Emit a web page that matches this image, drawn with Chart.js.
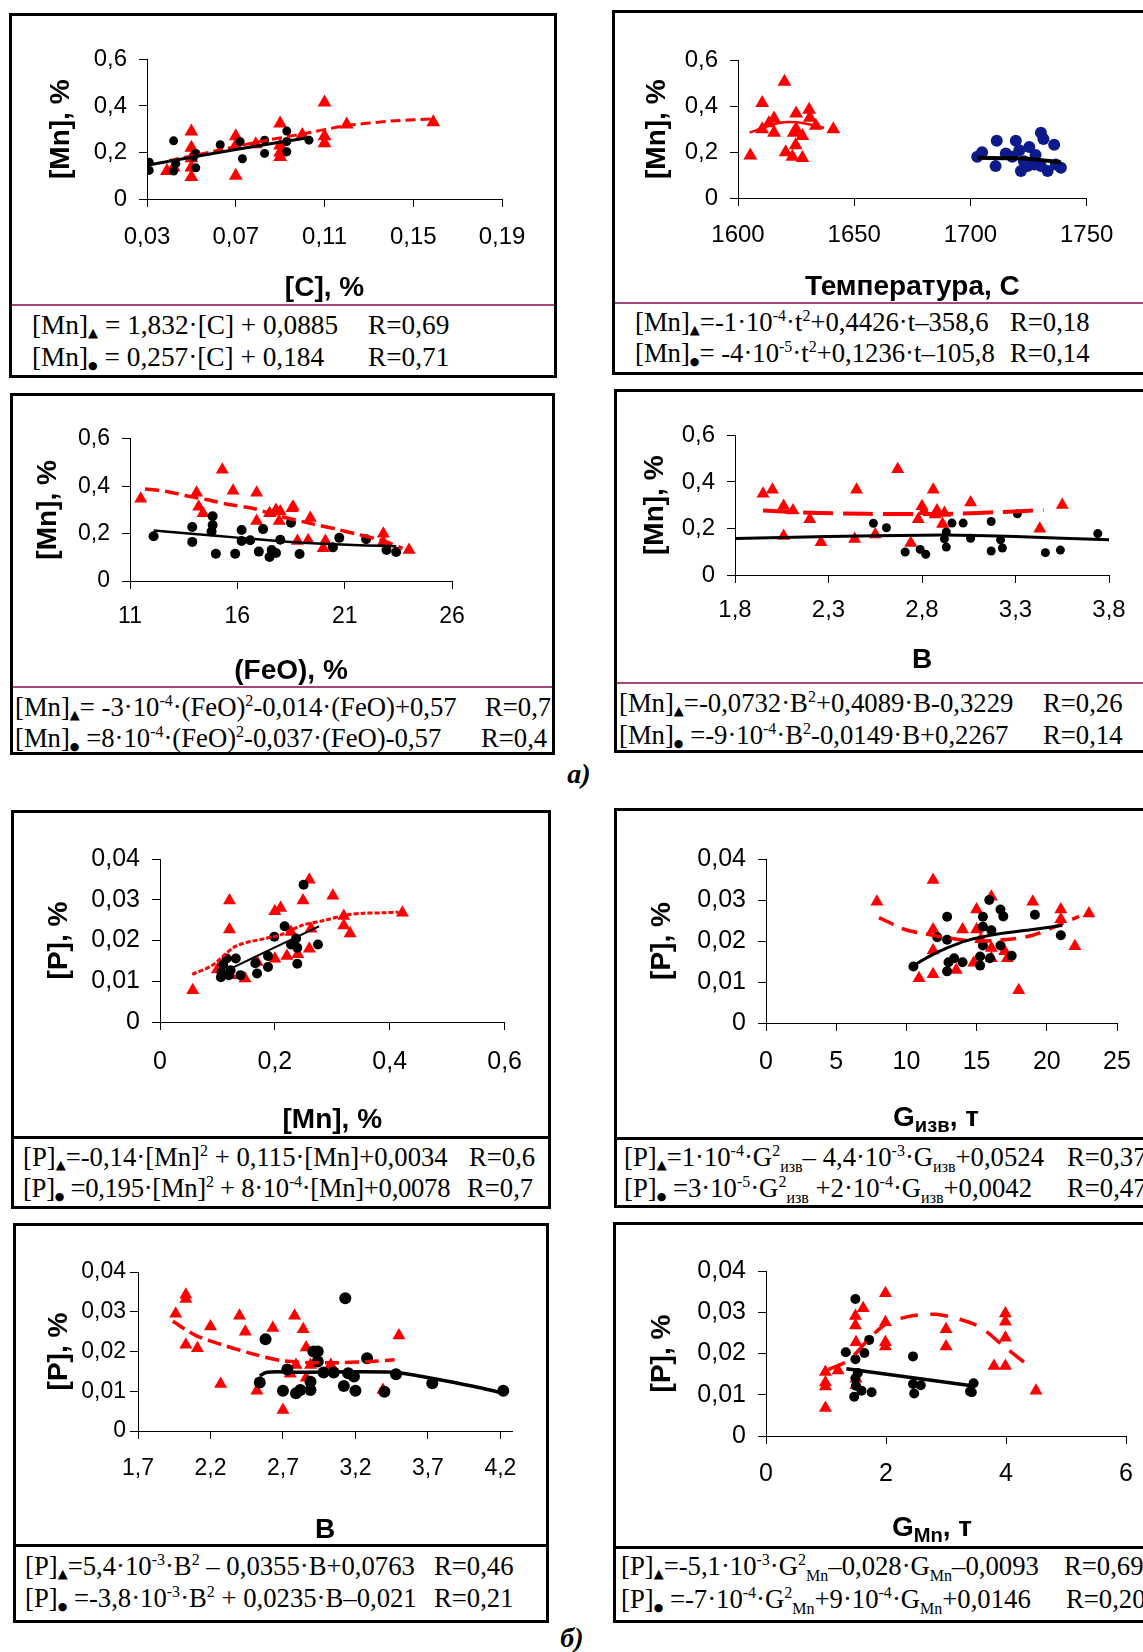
<!DOCTYPE html>
<html>
<head>
<meta charset="utf-8">
<script src="https://cdn.jsdelivr.net/npm/chart.js@4.4.1/dist/chart.umd.min.js"></script>
<style>
  html, body { margin: 0; padding: 0; background: #fff; overflow: hidden; }
  body { width: 1143px; height: 1652px; position: relative; }
  .box { position: absolute; border: 3px solid #000; box-sizing: border-box; background: #fff; }
  .sep { position: absolute; }
  .eq { position: absolute; font-family: 'Liberation Serif', 'Times New Roman', serif; font-size: 26.7px;
        white-space: nowrap; color: #000; height: 30px; line-height: 30px; }
  .eq sup { font-size: 0.6em; vertical-align: 0.6em; line-height: 0; }
  .eq sub { font-size: 0.6em; vertical-align: -0.35em; line-height: 0; }
  .eq sub.tri { font-family: 'DejaVu Sans', sans-serif; font-size: 13px; vertical-align: -0.2em; }
  .eq sub.dot { font-family: 'DejaVu Sans', sans-serif; font-size: 11px; vertical-align: -0.3em; }
  canvas { position: absolute; }
  .ttl { position: absolute; font: bold 28px 'Liberation Sans', Arial, sans-serif; white-space: nowrap;
         transform: translate(-50%, -50%); }
  .ttl sub { font-size: 0.72em; vertical-align: -0.3em; line-height: 0; }
  .lbl { position: absolute; font: bold italic 28px 'Liberation Serif', serif; transform: translate(-50%, -50%); }
</style>
</head>
<body>
<script>
// ---- tick values ----
const ticksMnY = [0, 0.2, 0.4, 0.6];
const ticksPY = [0, 0.01, 0.02, 0.03, 0.04];
const ticksC = [0.03, 0.07, 0.11, 0.15, 0.19];
const ticksT = [1600, 1650, 1700, 1750];
const ticksFeO = [11, 16, 21, 26];
const ticksB1 = [1.8, 2.3, 2.8, 3.3, 3.8];
const ticksMnX = [0, 0.2, 0.4, 0.6];
const ticksG = [0, 5, 10, 15, 20, 25];
const ticksB2 = [1.7, 2.2, 2.7, 3.2, 3.7, 4.2];
const ticksGmn = [0, 2, 4, 6];

// ---- [Mn] vs [C] ----
const mnC_tri = [[0.05,0.29],[0.05,0.22],[0.05,0.175],[0.05,0.135],[0.05,0.095],[0.039,0.12],[0.042,0.135],
  [0.07,0.10],[0.07,0.27],[0.07,0.23],[0.079,0.235],[0.09,0.325],[0.09,0.20],[0.09,0.18],[0.09,0.23],
  [0.11,0.415],[0.11,0.27],[0.11,0.24],[0.12,0.32],[0.159,0.33],[0.10,0.275]];
const mnC_dot = [[0.031,0.158],[0.031,0.123],[0.042,0.25],[0.042,0.12],[0.043,0.152],[0.052,0.196],[0.052,0.134],
  [0.051,0.18],[0.063,0.233],[0.072,0.246],[0.073,0.173],[0.083,0.253],[0.083,0.196],[0.093,0.292],
  [0.093,0.247],[0.093,0.203],[0.103,0.253]];
const mnC_triFit = [[0.04,0.165],[0.06,0.205],[0.08,0.245],[0.10,0.28],[0.12,0.315],[0.14,0.335],[0.16,0.345]];
const mnC_dotFit = [[0.03,0.145],[0.07,0.213],[0.104,0.265]];

// ---- [Mn] vs temperature ----
const mnT_tri = [[1605.3,0.185],[1610.4,0.414],[1610.4,0.30],[1613.3,0.326],[1615.5,0.347],[1615.5,0.285],
  [1620,0.507],[1620.5,0.199],[1623.4,0.18],[1625,0.368],[1625,0.30],[1624.8,0.23],[1627.7,0.27],
  [1627.7,0.174],[1630.6,0.385],[1630.9,0.35],[1633.5,0.315],[1641,0.30],[1624,0.285]];
const mnT_dot = [[1702.9,0.18],[1705,0.2],[1710.8,0.139],[1711.3,0.25],[1715.2,0.194],[1718,0.18],
  [1719.5,0.25],[1721,0.208],[1721.7,0.118],[1724.5,0.139],[1725.3,0.222],[1728,0.187],[1727.5,0.146],
  [1730.3,0.285],[1731.4,0.257],[1730.3,0.139],[1733.2,0.118],[1736,0.232],[1736.7,0.146],[1738.9,0.132],
  [1723,0.16]];
const mnT_triFit = [[1605,0.285],[1612,0.31],[1618,0.328],[1625,0.33],[1632,0.318],[1637,0.305]];
const mnT_dotFit = [[1703,0.175],[1720,0.173],[1730,0.166],[1739,0.155]];

// ---- [Mn] vs (FeO) ----
const mnFeO_tri = [[11.5,0.347],[14.1,0.372],[14.2,0.313],[14.4,0.286],[15.3,0.469],[15.8,0.381],[16.9,0.372],
  [16.9,0.253],[17.5,0.286],[17.8,0.30],[17.95,0.253],[18.0,0.293],[18.55,0.307],[18.6,0.313],[18.8,0.169],
  [19.4,0.266],[19.3,0.172],[20.0,0.138],[20.1,0.169],[22.8,0.199],[22.8,0.165],[24.0,0.131]];
const mnFeO_dot = [[12.1,0.189],[13.9,0.228],[13.9,0.165],[14.85,0.273],[14.85,0.236],[14.8,0.209],[15.0,0.115],
  [15.9,0.115],[16.2,0.215],[16.2,0.169],[16.6,0.172],[17.0,0.124],[17.2,0.219],[17.5,0.101],[17.6,0.131],
  [17.8,0.118],[18.0,0.174],[18.5,0.246],[18.9,0.114],[20.45,0.142],[20.75,0.182],[22.0,0.176],
  [22.95,0.131],[23.4,0.122]];
const mnFeO_triFit = [[11.7,0.388],[12.7,0.378],[13.6,0.36],[14.6,0.343],[15.6,0.323],[16.7,0.307],[18,0.273],
  [19.6,0.239],[20.6,0.219],[21.5,0.199],[22.7,0.172],[23.7,0.138]];
const mnFeO_dotFit = [[12.1,0.213],[14,0.198],[16,0.183],[18,0.168],[20,0.157],[22,0.15],[23.4,0.147]];

// ---- [Mn] vs basicity B ----
const mnB_tri = [[1.95,0.349],[2.0,0.366],[2.06,0.297],[2.11,0.277],[2.06,0.168],[2.2,0.24],[2.26,0.141],
  [2.44,0.155],[2.45,0.366],[2.55,0.174],[2.67,0.455],[2.74,0.137],[2.78,0.24],[2.8,0.295],[2.81,0.274],
  [2.86,0.366],[2.87,0.26],[2.88,0.277],[2.92,0.267],[2.91,0.219],[3.06,0.312],[3.43,0.199],[3.55,0.301]];
const mnB_dot = [[2.54,0.222],[2.61,0.203],[2.71,0.099],[2.79,0.11],[2.82,0.089],[2.93,0.185],[2.92,0.155],
  [2.93,0.12],[2.96,0.223],[3.02,0.223],[3.06,0.158],[3.17,0.23],[3.17,0.103],[3.22,0.151],[3.23,0.116],
  [3.31,0.263],[3.46,0.096],[3.54,0.107],[3.74,0.178]];
const mnB_triFit = [[1.95,0.277],[2.2,0.268],[2.5,0.263],[2.8,0.262],[3.0,0.264],[3.2,0.27],[3.45,0.279]];
const mnB_dotFit = [[1.8,0.157],[2.3,0.165],[2.8,0.171],[3.0,0.171],[3.3,0.165],[3.8,0.151]];

// ---- [P] vs [Mn] ----
const pMn_tri = [[0.057,0.0078],[0.10,0.0129],[0.121,0.0298],[0.121,0.0227],[0.123,0.0115],[0.148,0.0107],
  [0.169,0.0147],[0.20,0.0155],[0.20,0.0272],[0.21,0.028],[0.221,0.0162],[0.228,0.0221],[0.24,0.0166],
  [0.249,0.0298],[0.26,0.0349],[0.26,0.018],[0.263,0.0229],[0.301,0.031],[0.32,0.026],[0.32,0.0237],
  [0.331,0.0217],[0.422,0.0268]];
const pMn_dot = [[0.106,0.011],[0.107,0.0122],[0.11,0.0141],[0.116,0.0156],[0.12,0.0115],[0.123,0.0127],
  [0.132,0.0156],[0.14,0.0115],[0.166,0.0144],[0.169,0.0119],[0.188,0.0162],[0.188,0.0135],[0.199,0.0209],
  [0.217,0.0235],[0.228,0.019],[0.237,0.0205],[0.239,0.0182],[0.239,0.0143],[0.25,0.0337],[0.275,0.019]];
const pMn_triFit = [[0.056,0.0117],[0.091,0.0139],[0.132,0.0186],[0.183,0.0205],[0.209,0.0213],[0.247,0.0237],
  [0.285,0.0249],[0.323,0.0262],[0.355,0.0267],[0.39,0.0268],[0.415,0.027]];
const pMn_dotFit = [[0.123,0.0131],[0.2,0.0183],[0.277,0.0235]];

// ---- [P] vs lime mass ----
const pG_tri = [[7.9,0.0296],[11.9,0.0349],[10.9,0.0109],[11.9,0.0228],[11.9,0.0177],[11.9,0.0119],
  [13.55,0.0129],[14.0,0.0228],[14.8,0.0147],[15.0,0.0277],[15.0,0.0228],[15.3,0.0204],[16.05,0.0308],
  [16.05,0.0183],[16.05,0.0158],[17.0,0.0175],[17.2,0.0158],[18.0,0.008],[19.0,0.0296],[21.0,0.0277],
  [21.0,0.0253],[22.0,0.0187],[23.0,0.0267]];
const pG_dot = [[10.5,0.0138],[12.2,0.0209],[12.9,0.0259],[12.9,0.0203],[12.9,0.0126],[13.0,0.0148],
  [13.4,0.0158],[14.0,0.0148],[15.25,0.0162],[15.25,0.014],[15.45,0.0259],[15.45,0.0235],[15.45,0.0189],
  [15.9,0.03],[16.05,0.0226],[15.95,0.0158],[16.7,0.0277],[16.9,0.026],[16.7,0.0189],[17.5,0.0164],
  [19.15,0.0264],[21.0,0.0214]];
const pG_triFit = [[8.05,0.0257],[9.9,0.0228],[11.4,0.0217],[12.9,0.0208],[14.8,0.02],[17.3,0.0204],
  [19.0,0.0214],[20.5,0.0234],[22.3,0.026]];
const pG_dotFit = [[10.5,0.014],[11.6,0.0162],[12.9,0.0183],[14.3,0.0201],[16.5,0.0217],[19.0,0.0228],[21.1,0.0238]];

// ---- [P] vs basicity B ----
const pB_tri = [[1.96,0.0295],[2.03,0.0343],[2.03,0.0332],[2.03,0.0217],[2.11,0.0208],[2.2,0.0263],
  [2.27,0.0118],[2.4,0.029],[2.44,0.025],[2.52,0.0101],[2.63,0.0259],[2.7,0.0053],[2.75,0.0144],
  [2.78,0.029],[2.79,0.0166],[2.84,0.0256],[2.86,0.021],[2.86,0.0134],[2.89,0.0166],[3.03,0.0166],
  [3.39,0.0103],[3.5,0.024]];
const pB_dot = [[2.54,0.0122],[2.58,0.0231],[2.7,0.0101],[2.73,0.0155],[2.79,0.0095],[2.82,0.0103],
  [2.89,0.0103],[2.89,0.0124],[2.91,0.02],[2.94,0.02],[2.94,0.0175],[2.98,0.0147],[3.05,0.0147],
  [3.13,0.0334],[3.12,0.0113],[3.15,0.0145],[3.19,0.0137],[3.2,0.0101],[3.28,0.0183],[3.4,0.0099],
  [3.48,0.0143],[3.73,0.012],[4.22,0.0101]];
const pB_triFit = [[1.94,0.0276],[2.1,0.024],[2.28,0.0217],[2.49,0.0194],[2.69,0.0177],[2.89,0.0172],
  [3.12,0.0172],[3.3,0.0175],[3.47,0.0179]];
const pB_dotFit = [[2.54,0.0139],[2.59,0.0148],[2.79,0.0148],[3.46,0.0148],[3.63,0.0139],[3.81,0.0127],
  [4.02,0.0112],[4.2,0.0097]];

// ---- [P] vs ferromanganese mass ----
const pGmn_tri = [[0.99,0.0068],[0.99,0.012],[0.99,0.013],[0.99,0.0155],[1.2,0.0159],[1.49,0.0291],
  [1.49,0.0268],[1.5,0.0227],[1.5,0.0139],[1.5,0.0123],[1.62,0.031],[1.99,0.0346],[1.99,0.0276],
  [1.99,0.0227],[1.99,0.0217],[3.0,0.0259],[3.0,0.0217],[3.8,0.017],[3.99,0.0297],[3.99,0.0277],
  [3.99,0.0238],[3.99,0.017],[4.5,0.011]];
const pGmn_dot = [[1.33,0.0203],[1.49,0.0332],[1.49,0.0186],[1.49,0.014],[1.5,0.0122],[1.47,0.0095],
  [1.53,0.0153],[1.59,0.011],[1.64,0.0201],[1.72,0.0233],[1.76,0.0106],[2.45,0.0193],[2.45,0.0126],
  [2.47,0.0103],[2.58,0.0123],[3.4,0.0108],[3.46,0.0128],[3.43,0.0106]];
const pGmn_triFit = [[1.04,0.0161],[1.38,0.0184],[1.73,0.0238],[2.02,0.0273],[2.42,0.0291],[2.83,0.0295],
  [3.23,0.0283],[3.58,0.0263],[3.92,0.0223],[4.36,0.0172]];
const pGmn_dotFit = [[1.34,0.0163],[3.43,0.0122]];

// ---- regression captions ----
const T = '<sub class="tri">▲</sub>';
const D = '<sub class="dot">●</sub>';
const eqMnC = [`[Mn]${T} = 1,832·[C] + 0,0885`, `[Mn]${D} = 0,257·[C] + 0,184`];
const rMnC = ['R=0,69', 'R=0,71'];
const eqMnT = [`[Mn]${T}=-1·10<sup>-4</sup>·t<sup>2</sup>+0,4426·t–358,6`,
               `[Mn]${D}= -4·10<sup>-5</sup>·t<sup>2</sup>+0,1236·t–105,8`];
const rMnT = ['R=0,18', 'R=0,14'];
const eqMnFeO = [`[Mn]${T}= -3·10<sup>-4</sup>·(FeO)<sup>2</sup>-0,014·(FeO)+0,57`,
                 `[Mn]${D} =8·10<sup>-4</sup>·(FeO)<sup>2</sup>-0,037·(FeO)-0,57`];
const rMnFeO = ['R=0,7', 'R=0,4'];
const eqMnB = [`[Mn]${T}=-0,0732·B<sup>2</sup>+0,4089·B-0,3229`,
               `[Mn]${D} =-9·10<sup>-4</sup>·B<sup>2</sup>-0,0149·B+0,2267`];
const rMnB = ['R=0,26', 'R=0,14'];
const eqPMn = [`[P]${T}=-0,14·[Mn]<sup>2</sup> + 0,115·[Mn]+0,0034`,
               `[P]${D} =0,195·[Mn]<sup>2</sup> + 8·10<sup>-4</sup>·[Mn]+0,0078`];
const rPMn = ['R=0,6', 'R=0,7'];
const eqPG = [`[P]${T}=1·10<sup>-4</sup>·G<sup>2</sup><sub>изв</sub>– 4,4·10<sup>-3</sup>·G<sub>изв</sub>+0,0524`,
              `[P]${D} =3·10<sup>-5</sup>·G<sup>2</sup><sub>изв</sub> +2·10<sup>-4</sup>·G<sub>изв</sub>+0,0042`];
const rPG = ['R=0,37', 'R=0,47'];
const eqPB = [`[P]${T}=5,4·10<sup>-3</sup>·B<sup>2</sup> – 0,0355·B+0,0763`,
              `[P]${D} =-3,8·10<sup>-3</sup>·B<sup>2</sup> + 0,0235·B–0,021`];
const rPB = ['R=0,46', 'R=0,21'];
const eqPGmn = [`[P]${T}=-5,1·10<sup>-3</sup>·G<sup>2</sup><sub>Mn</sub>–0,028·G<sub>Mn</sub>–0,0093`,
                `[P]${D} =-7·10<sup>-4</sup>·G<sup>2</sup><sub>Mn</sub>+9·10<sup>-4</sup>·G<sub>Mn</sub>+0,0146`];
const rPGmn = ['R=0,69', 'R=0,20'];

const SANS = "'Liberation Sans', Arial, sans-serif";
const TITLE_SIZE = 28;
const LH = TITLE_SIZE * 1.2;
const PINK = '#a3467a';

// page layout of the eight panels (px)
const panels = [
  { box: [9, 13, 557, 378], sep: 305, sepColor: PINK, sepW: 2,
    plot: [147, 511, 53, 199], yTitleX: 61, xTitleY: 288, tick: 24, xLabelY: 237,
    x: [0.03, 0.19, ticksC], y: [0, 0.6, ticksMnY], xTitle: '[C], %', yTitle: '[Mn], %',
    eq: eqMnC, r: rMnC, eqX: 32, eqY: [325, 357], rX: [368, 368], eqSize: 27.3,
    tri: mnC_tri, dot: mnC_dot, triFit: mnC_triFit, dotFit: mnC_dotFit,
    st: { triR: 8, dotR: 4.5, dotColor: '#000', fitDash: [10, 5], fitW: 3, dotFitW: 3 } },
  { box: [612, 10, 1170, 375], sep: 303, sepColor: PINK, sepW: 2,
    plot: [738, 1098, 54, 198], yTitleX: 657, xTitleY: 287, tick: 24, xLabelY: 235,
    x: [1600, 1750, ticksT], y: [0, 0.6, ticksMnY], xTitle: 'Температура, С', yTitle: '[Mn], %',
    eq: eqMnT, r: rMnT, eqX: 635, eqY: [322, 353], rX: [1010, 1010],
    tri: mnT_tri, dot: mnT_dot, triFit: mnT_triFit, dotFit: mnT_dotFit,
    st: { triR: 8, dotR: 6, dotColor: '#0c1a8c', fitDash: [], fitW: 2.5, dotFitW: 4 } },
  { box: [10, 393, 555, 755], sep: 687, sepColor: PINK, sepW: 2,
    plot: [130, 452, 433, 581], yTitleX: 48, xTitleY: 671, tick: 23, xLabelY: 617,
    x: [11, 26, ticksFeO], y: [0, 0.6, ticksMnY], xTitle: '(FeO), %', yTitle: '[Mn], %',
    eq: eqMnFeO, r: rMnFeO, eqX: 15, eqY: [707, 738], rX: [485, 481],
    tri: mnFeO_tri, dot: mnFeO_dot, triFit: mnFeO_triFit, dotFit: mnFeO_dotFit,
    st: { triR: 7.5, dotR: 5, dotColor: '#000', fitDash: [14, 6], fitW: 3.5, dotFitW: 2.5 } },
  { box: [614, 389, 1170, 753], sep: 683, sepColor: PINK, sepW: 2,
    plot: [735, 1109, 429, 575], yTitleX: 655, xTitleY: 660, tick: 24, xLabelY: 610,
    x: [1.8, 3.8, ticksB1], y: [0, 0.6, ticksMnY], xTitle: 'B', yTitle: '[Mn], %',
    eq: eqMnB, r: rMnB, eqX: 619, eqY: [703, 735], rX: [1043, 1043],
    tri: mnB_tri, dot: mnB_dot, triFit: mnB_triFit, dotFit: mnB_dotFit,
    st: { triR: 7.5, dotR: 4.5, dotColor: '#000', fitDash: [30, 10], fitW: 4, dotFitW: 3 } },
  { box: [11, 810, 551, 1209], sep: 1137, sepColor: '#000', sepW: 3,
    plot: [160, 509, 852, 1022], yTitleX: 59, xTitleY: 1120, tick: 25, xLabelY: 1062,
    x: [0, 0.6, ticksMnX], y: [0, 0.04, ticksPY], xTitle: '[Mn], %', yTitle: '[P], %',
    eq: eqPMn, r: rPMn, eqX: 23, eqY: [1157, 1188], rX: [469, 467], eqTrack: [0, -0.3],
    tri: pMn_tri, dot: pMn_dot, triFit: pMn_triFit, dotFit: pMn_dotFit,
    st: { triR: 7.5, dotR: 5, dotColor: '#000', fitDash: [5, 2], fitW: 3, dotFitW: 2 } },
  { box: [614, 808, 1170, 1208], sep: 1138, sepColor: '#000', sepW: 3,
    plot: [766, 1117, 852, 1023], yTitleX: 662, xTitleY: 1117, tick: 25, xLabelY: 1062,
    x: [0, 25, ticksG], y: [0, 0.04, ticksPY], xTitleHtml: 'G<sub>изв</sub>, т', xTitleX: 936, yTitle: '[P], %',
    eq: eqPG, r: rPG, eqX: 624, eqY: [1157, 1188], rX: [1067, 1067],
    tri: pG_tri, dot: pG_dot, triFit: pG_triFit, dotFit: pG_dotFit,
    st: { triR: 7.5, dotR: 5, dotColor: '#000', fitDash: [16, 9], fitW: 3.5, dotFitW: 3 } },
  { box: [13, 1223, 549, 1623], sep: 1545, sepColor: '#000', sepW: 3,
    plot: [138, 512, 1272, 1431], yTitleX: 59, xTitleY: 1530, tick: 23, xLabelY: 1469, yPad: 4,
    x: [1.7, 4.28, ticksB2], y: [0, 0.04, ticksPY], xTitle: 'B', yTitle: '[P], %',
    eq: eqPB, r: rPB, eqX: 25, eqY: [1566, 1598], rX: [434, 434],
    tri: pB_tri, dot: pB_dot, triFit: pB_triFit, dotFit: pB_dotFit,
    st: { triR: 7.5, dotR: 6, dotColor: '#000', fitDash: [14, 6], fitW: 3.5, dotFitW: 3.5 } },
  { box: [613, 1222, 1170, 1623], sep: 1547, sepColor: '#000', sepW: 3,
    plot: [766, 1126, 1264, 1436], yTitleX: 662, xTitleY: 1527, tick: 25, xLabelY: 1474,
    x: [0, 6, ticksGmn], y: [0, 0.04, ticksPY], xTitleHtml: 'G<sub>Mn</sub>, т', xTitleX: 932, yTitle: '[P], %',
    eq: eqPGmn, r: rPGmn, eqX: 621, eqY: [1566, 1599], rX: [1064, 1066],
    tri: pGmn_tri, dot: pGmn_dot, triFit: pGmn_triFit, dotFit: pGmn_dotFit,
    st: { triR: 7.5, dotR: 5, dotColor: '#000', fitDash: [18, 12], fitW: 3.5, dotFitW: 3.5 } }
];

const fmt = (v) => String(v).replace('.', ',');
const pts = (a) => a.map(([x, y]) => ({ x, y }));

function addDiv(cls, html, css) {
  const d = document.createElement('div');
  d.className = cls;
  if (html) d.innerHTML = html;
  Object.assign(d.style, css);
  document.body.appendChild(d);
  return d;
}

function drawPanel(p) {
  const [bl, bt, br, bb] = p.box;
  addDiv('box', '', { left: bl + 'px', top: bt + 'px', width: (br - bl) + 'px', height: (bb - bt) + 'px' });
  addDiv('sep', '', { left: (bl + 3) + 'px', top: (p.sep - p.sepW / 2) + 'px', width: (br - bl - 6) + 'px',
                      height: p.sepW + 'px', background: p.sepColor });

  p.eq.forEach((line, i) => {
    const css = { left: p.eqX + 'px', top: (p.eqY[i] - 15) + 'px' };
    if (p.eqSize) css.fontSize = p.eqSize + 'px';
    const rCss = Object.assign({}, css, { left: p.rX[i] + 'px' });
    if (p.eqTrack) css.letterSpacing = p.eqTrack[i] + 'px';
    addDiv('eq', line, css);
    addDiv('eq', p.r[i], rCss);
  });

  const [pl, pr, pt, pb] = p.plot;
  const cl = Math.round(p.yTitleX - LH / 2);
  const ct = pt - 20;
  const cr = pr + 30;
  const cb = Math.round(p.xTitleY + LH / 2);
  const W = pl - cl;
  const H = cb - pb;
  const tickLen = 8;
  const lhTick = p.tick * 1.2;

  const cv = document.createElement('canvas');
  cv.width = cr - cl;
  cv.height = cb - ct;
  cv.style.left = cl + 'px';
  cv.style.top = ct + 'px';
  document.body.appendChild(cv);

  if (p.xTitleHtml) {
    addDiv('ttl', p.xTitleHtml, { left: p.xTitleX + 'px', top: p.xTitleY + 'px' });
  }

  const tickFont = { family: SANS, size: p.tick };
  const titleFont = { family: SANS, size: TITLE_SIZE, weight: 'bold' };
  const grid = { drawOnChartArea: false, drawTicks: true, tickLength: tickLen, color: '#000', lineWidth: 1 };
  const border = { display: true, color: '#000', width: 1 };

  new Chart(cv, {
    type: 'scatter',
    data: {
      datasets: [
        { data: pts(p.dotFit), showLine: true, pointRadius: 0, borderColor: '#000',
          borderWidth: p.st.dotFitW, tension: 0.3, fill: false },
        { data: pts(p.triFit), showLine: true, pointRadius: 0, borderColor: '#ff0000',
          borderWidth: p.st.fitW, borderDash: p.st.fitDash, tension: 0.3, fill: false },
        { data: pts(p.dot), pointStyle: 'circle', pointRadius: p.st.dotR,
          pointBackgroundColor: p.st.dotColor, pointBorderColor: p.st.dotColor, pointBorderWidth: 0 },
        { data: pts(p.tri), pointStyle: 'triangle', pointRadius: p.st.triR,
          pointBackgroundColor: '#ff0000', pointBorderColor: '#ff0000', pointBorderWidth: 0 }
      ]
    },
    options: {
      responsive: false,
      animation: false,
      devicePixelRatio: 1,
      events: [],
      layout: { padding: { top: 20, right: 30, left: 0, bottom: 0 } },
      plugins: { legend: { display: false }, tooltip: { enabled: false } },
      scales: {
        x: {
          type: 'linear', min: p.x[0], max: p.x[1],
          afterBuildTicks: (s) => { s.ticks = p.x[2].map((v) => ({ value: v })); },
          afterFit: (s) => { s.height = H; },
          ticks: { font: tickFont, color: '#000', autoSkip: false, maxRotation: 0,
                   padding: p.xLabelY - pb - tickLen - lhTick / 2, callback: fmt },
          grid, border,
          title: { display: !!p.xTitle, text: p.xTitle || '', font: titleFont, color: '#000', padding: 0 }
        },
        y: {
          type: 'linear', min: p.y[0], max: p.y[1],
          afterBuildTicks: (s) => { s.ticks = p.y[2].map((v) => ({ value: v })); },
          afterFit: (s) => { s.width = W; },
          ticks: { font: tickFont, color: '#000', autoSkip: false, padding: p.yPad ?? 12, callback: fmt },
          grid, border,
          title: { display: true, text: p.yTitle, font: titleFont, color: '#000', padding: 0 }
        }
      }
    }
  });
}

panels.forEach(drawPanel);

addDiv('lbl', 'а)', { left: '579px', top: '774px' });
addDiv('lbl', 'б)', { left: '572px', top: '1638px' });
</script>
</body>
</html>
